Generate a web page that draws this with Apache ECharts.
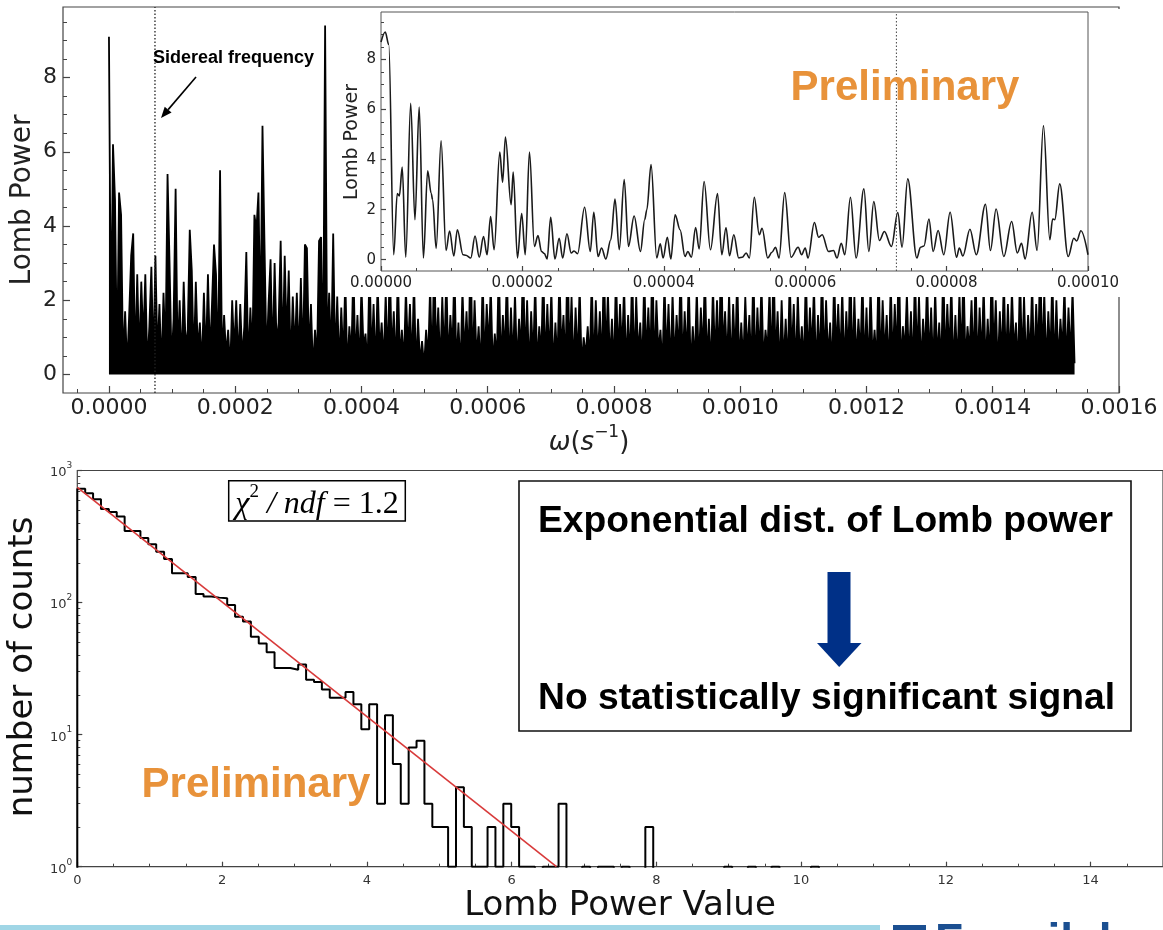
<!DOCTYPE html>
<html>
<head>
<meta charset="utf-8">
<script src="https://cdn.jsdelivr.net/npm/echarts@6/dist/echarts.min.js"></script>
<style>
  html, body { margin: 0; padding: 0; background: #fff; }
  #chart { width: 1163px; height: 930px; }
</style>
</head>
<body>
<div id="chart"></div>
<script>
// ---------- data ----------
// Lomb periodogram over the full frequency range (uniform grid, step in s^-1)
const MAIN_STEP = 3.2e-6;
const mainPower = [
  9.1,1.0,6.2,4.7,0.2,4.9,4.3,0.3,1.7,0.2,
  1.6,3.2,3.8,0.3,2.7,0.4,2.5,0.9,2.7,0.2,
  1.3,2.9,0.3,3.2,0.5,1.9,0.1,2.2,0.6,5.4,
  3.0,0.3,1.5,5.0,0.4,2.0,0.2,2.5,0.7,1.2,
  3.9,2.8,0.3,2.5,0.6,1.4,0.2,2.2,0.4,2.7,
  0.5,1.9,3.5,2.7,0.1,5.5,0.3,1.6,0.5,1.2,
  0.1,2.0,0.6,2.0,0.3,1.9,0.4,1.3,3.3,0.2,
  1.8,0.5,4.3,3.9,4.9,1.2,6.7,3.5,0.4,1.9,
  3.1,0.3,3.0,0.8,1.4,3.6,0.5,3.2,0.9,2.8,
  0.2,2.1,0.6,2.2,0.4,2.6,0.3,3.5,3.4,0.5,
  1.9,0.1,1.2,0.4,3.6,3.7,0.1,9.4,0.6,2.2,
  0.4,3.8,0.3,2.1,
  0.2,1.8,0.4,2.6,0.1,1.3,0.5,2.9,0.3,1.6,0.2,2.4,0.7,1.1,0.2,3.0,0.4,1.9,0.1,2.5,
  0.6,1.4,0.3,2.2,0.2,3.1,0.5,1.7,0.1,2.8,0.4,1.2,0.3,2.3,0.6,1.9,0.2,2.6,0.1,1.5,
  0.3,0.9,0.2,1.2,0.4,2.4,0.1,3.3,0.5,1.8,0.2,2.1,0.4,2.7,0.3,1.6,0.6,2.9,0.2,1.4,
  0.1,2.3,0.5,1.7,0.3,3.6,0.2,2.0,0.4,1.3,0.1,2.6,0.3,1.9,0.7,2.4,0.2,1.1,0.4,3.0,
  0.2,1.6,0.5,2.8,0.1,1.8,0.3,2.2,0.2,1.5,0.6,3.2,0.3,2.0,0.1,1.7,0.4,2.5,0.2,1.3,
  0.5,2.9,0.2,1.9,0.4,2.3,0.1,1.4,0.3,2.7,0.6,1.6,0.2,3.4,0.4,2.1,0.1,1.8,0.3,2.4,
  0.2,1.0,0.5,1.3,0.3,2.6,0.1,2.0,0.4,1.7,0.2,3.1,0.5,2.2,0.3,1.5,0.1,2.8,0.4,1.9,
  0.6,2.4,0.2,1.6,0.3,2.9,0.1,2.1,0.5,1.4,0.2,2.7,0.4,1.8,0.3,3.3,0.1,2.0,0.6,1.2,
  0.2,2.5,0.4,1.9,0.1,2.2,0.3,1.6,0.5,3.0,0.2,1.7,0.4,2.6,0.1,1.3,0.3,2.3,0.2,1.8,
  0.5,2.8,0.3,1.5,0.1,2.4,0.4,2.0,0.2,3.5,0.6,1.7,0.3,2.2,0.1,1.9,0.4,2.7,0.2,1.4,
  0.3,2.1,0.5,1.6,0.2,2.9,0.1,1.8,0.4,2.5,0.3,1.2,0.6,2.3,0.2,3.1,0.4,1.7,0.1,2.0,
  0.3,1.5,0.2,2.6,0.5,1.9,0.1,2.2,0.4,1.3,0.2,2.8,0.3,1.8,0.6,2.4,0.1,1.6,0.3,3.0,
  0.2,2.0,0.4,1.4,0.1,2.7,0.5,1.9,0.3,2.3,0.2,1.7,0.4,3.2,0.1,2.1,0.3,1.5,0.5,2.6,
  0.2,1.8,0.1,2.4,0.4,1.2,0.3,2.9,0.2,2.0,0.5,1.6,0.1,2.5,0.3,1.9,0.4,3.4,0.2,1.3,
  0.6,2.2,0.3,1.7,0.1,2.8,0.4,2.1,0.2,1.5,0.5,2.6,0.3,1.8,0.1,2.3,0.4,1.4,0.2,3.0,
  0.3,1.9,0.5,2.5,0.1,1.6,0.2,2.2,0.4,2.9,0.3,1.3,0.6,2.0,0.2,2.7,0.1,1.8,0.4,2.4,
  0.2,1.5,0.3,3.1,0.5,2.0,0.1,1.7,0.4,2.6,0.2,1.9,0.3,2.3,0.6,1.4,0.1,2.8,0.3,2.1,
  0.2,1.6,0.4,2.5,0.1,1.9,0.5,3.3,0.3,2.2,0.2,1.7,0.4,2.7,0.1,2.0,0.3,1.5,0.6,2.4,
  0.2,1.8,0.4,2.3,0.3
];

// Low-frequency zoom: frequencies in units of 1e-6 s^-1, and Lomb power
const insetFreq = [
  0,0.6,1.1,1.8,2.3,2.6,3.0,3.5,4.2,4.8,5.4,6.0,6.6,7.1,7.3,7.8,8.5,9.2,9.7,10.3,
  10.8,11.6,12.0,12.7,13.3,13.9,14.5,15.0,15.5,16.0,16.8,17.2,17.6,18.4,18.7,19.3,19.9,20.4,21.0,21.7,
  22.2,22.7,23.1,23.5,24.0,24.6,25.2,25.7,26.3,26.9,27.3,27.8,28.8,29.6,30.1,30.7,31.2,31.8,32.5,33.1,
  33.7,34.4,35.0,35.8,36.7,37.3,37.6,38.2,39.0,39.5,39.9,40.5,41.0,41.6,42.3,43.0,43.4,43.9,44.5,45.0,
  45.7,46.6,47.6,48.2,48.8,49.3,49.9,50.6,51.1,51.65,52.1,52.8,53.5,53.9,54.7,55.3,55.8,56.3,57.1,58.0,
  59.0,59.5,60.0,60.4,61.3,61.9,62.4,63.3,64.0,64.5,65.1,65.6,66.4,67.2,68.3,69.0,69.7,70.5,71.2,72.2,
  73.1,73.7,74.5,75.8,76.3,76.8,77.5,78.1,78.8,79.6,80.5,81.4,81.8,82.3,83.3,84.2,85.5,86.2,87.0,88.1,
  89.2,90.0,90.6,91.1,92.1,92.8,93.7,94.6,95.0,95.3,96.0,97.2,98.0,98.4,99.0,100.0
];
const insetPower = [
  8.7,9.1,8.6,0.2,2.65,2.55,3.7,0.1,6.25,1.6,6.1,0.07,3.55,2.65,2.4,0.45,4.75,0.37,1.15,0.15,
  1.2,0.2,0.18,0.07,0.95,0.1,0.93,0.2,1.73,0.4,4.3,3.1,4.9,2.2,3.5,0.07,1.85,0.2,4.3,0.53,
  0.97,0.33,0.25,0.03,1.7,0.03,0.86,0.07,1.04,0.27,0.35,0.24,2.1,0.33,1.9,0.13,0.47,0.03,0.8,2.43,
  0.4,3.2,0.53,1.75,0.33,1.6,2.0,3.8,0.07,0.64,0.07,0.9,0.03,1.8,1.2,0.13,0.33,0.1,1.29,0.43,
  3.12,0.4,2.65,0.2,1.29,0.16,1.0,0.07,0.1,0.27,0.07,2.5,1.0,1.26,0.07,0.3,0.5,0.07,2.68,0.1,
  0.5,0.2,0.47,0.07,1.49,0.9,1.0,0.33,0.37,0.07,0.66,0.2,2.5,0.07,2.83,0.33,2.33,0.77,1.13,0.53,
  1.89,0.5,3.23,0.07,0.5,0.55,1.63,0.33,1.17,0.2,1.9,0.1,0.47,0.15,1.22,0.2,2.22,0.37,2.03,0.13,
  1.53,0.27,0.66,0.03,1.9,0.37,5.36,0.8,1.63,1.6,3.03,0.13,0.86,0.75,1.16,0.2
];

// Sidereal angular frequency (s^-1)
const SIDEREAL = 7.29e-5;

// Histogram of Lomb power values: bin width and counts per bin
const BIN_W = 0.109;
const histCounts = [
  727,674,607,510,484,448,349,349,308,277,
  243,214,167,167,156,116,111,109,108,96,
  78,72,55,49,42,32,32,31,34,26,
  25,22,19,19,21,17,11,17,3,14,
  6,3,8,9,3,2,2,1,4,2,
  1,1,2,1,3,2,1,1,0,1,
  1,3,0,0,1,0,1,1,0,1,
  0,0,2,0,0,0,0,0,0,0,
  0,0,1,0,0,1,0,0,1,0,
  0,0,0,1
];
// Exponential fit, drawn between its end points
const fitLine = [[0, 745], [6.62, 1]];

// Tick labels
const mainXTicks = [0, 0.0002, 0.0004, 0.0006, 0.0008, 0.0010, 0.0012, 0.0014, 0.0016];
const mainYTicks = [0, 2, 4, 6, 8];
const insetXTicks = [0, 0.00002, 0.00004, 0.00006, 0.00008, 0.0001];
const insetYTicks = [0, 2, 4, 6, 8];
const histXTicks = [0, 2, 4, 6, 8, 10, 12, 14];
const histYTicks = [1, 10, 100, 1000];

// ---------- helpers ----------
function minorSteps(from, to, step, every) {
  const out = [];
  for (let k = Math.round(from / step); k * step <= to + step * 1e-6; k++) {
    if (k % every !== 0) out.push(+(k * step).toPrecision(10));
  }
  return out;
}
const FRAME = '#444';
const LABEL = '#222';
const FONT = 'DejaVu Sans';

function majorAxis(o) {
  return {
    gridIndex: o.grid, type: o.type || 'value', position: o.pos,
    min: o.min, max: o.max, logBase: 10, z: o.z || 0,
    axisLine: { show: false, onZero: false }, splitLine: { show: false },
    axisTick: { inside: true, length: o.len, customValues: o.ticks,
      lineStyle: { color: FRAME, width: 1.2 } },
    axisLabel: { customValues: o.ticks, formatter: o.fmt, margin: o.margin,
      fontSize: o.fontSize, fontFamily: FONT, color: o.color || LABEL, rich: o.rich }
  };
}
function minorAxis(o) {
  return {
    gridIndex: o.grid, type: o.type || 'value', position: o.pos,
    min: o.min, max: o.max, logBase: 10, z: o.z || 0,
    axisLine: { show: false, onZero: false }, splitLine: { show: false },
    axisTick: { inside: true, length: o.len, customValues: o.ticks,
      lineStyle: { color: FRAME, width: 1 } },
    axisLabel: { show: false }
  };
}

// ---------- ranges ----------
const MAIN_X = [-0.0000728, 0.0016], MAIN_Y = [-0.5, 9.9];
const INSET_X = [0, 0.0001], INSET_Y = [-0.45, 9.9];
const HIST_X = [0, 15], HIST_Y = [1, 1000];
const FLOOR = 0.5; // empty bins fall below the log-axis floor and are clipped

// ---------- series data ----------
const mainData = mainPower.map((p, i) => [i * MAIN_STEP, p]);
const insetData = insetFreq.map((f, i) => [f * 1e-6, insetPower[i]]);
const histData = [[0, FLOOR]];
histCounts.forEach((c, i) => histData.push([i * BIN_W, c > 0 ? c : FLOOR]));
histData.push([histCounts.length * BIN_W, FLOOR]);

const logMinor = [];
[1, 10, 100].forEach(d => { for (let m = 2; m <= 9; m++) logMinor.push(m * d); });

// arrow head for the sidereal annotation
const A0 = [196, 77], A1 = [161, 118];
const dl = Math.hypot(A1[0] - A0[0], A1[1] - A0[1]);
const ux = (A1[0] - A0[0]) / dl, uy = (A1[1] - A0[1]) / dl;
const hb = [A1[0] - 11 * ux, A1[1] - 11 * uy];
const head = [[A1[0], A1[1]], [hb[0] - 4.5 * uy, hb[1] + 4.5 * ux], [hb[0] + 4.5 * uy, hb[1] - 4.5 * ux]];

const ORANGE = '#E8923A';

const option = {
  animation: false,
  backgroundColor: '#fff',
  textStyle: { fontFamily: FONT },
  grid: [
    { left: 63, top: 7, width: 1056, height: 386, show: true, borderColor: FRAME, borderWidth: 1.2, backgroundColor: 'transparent', z: 0 },
    { left: 381, top: 12, width: 707, height: 259, show: true, borderColor: '#555', borderWidth: 1, backgroundColor: 'transparent', z: 8 },
    { left: 77.3, top: 470.5, width: 1086, height: 396.2, show: true, borderColor: FRAME, borderWidth: 1.2, backgroundColor: 'transparent', z: 0 }
  ],
  xAxis: [
    majorAxis({ grid: 0, pos: 'bottom', min: MAIN_X[0], max: MAIN_X[1], ticks: mainXTicks, len: 7,
      fmt: v => v.toFixed(4), fontSize: 22, margin: 4 }),
    minorAxis({ grid: 0, pos: 'bottom', min: MAIN_X[0], max: MAIN_X[1], len: 4,
      ticks: minorSteps(-0.00005, 0.0016, 0.00005, 4) }),
    majorAxis({ grid: 1, pos: 'bottom', min: INSET_X[0], max: INSET_X[1], ticks: insetXTicks, len: 5, z: 8,
      fmt: v => v.toFixed(5), fontSize: 15, margin: 5 }),
    minorAxis({ grid: 1, pos: 'bottom', min: INSET_X[0], max: INSET_X[1], len: 3, z: 8,
      ticks: minorSteps(0, 0.0001, 0.000005, 4) }),
    majorAxis({ grid: 2, pos: 'bottom', min: HIST_X[0], max: HIST_X[1], ticks: histXTicks, len: 5,
      fmt: v => String(v), fontSize: 13, margin: 7, color: '#333' }),
    minorAxis({ grid: 2, pos: 'bottom', min: HIST_X[0], max: HIST_X[1], len: 3,
      ticks: minorSteps(0, 15, 0.5, 4) })
  ],
  yAxis: [
    majorAxis({ grid: 0, pos: 'left', min: MAIN_Y[0], max: MAIN_Y[1], ticks: mainYTicks, len: 7,
      fmt: v => String(v), fontSize: 22, margin: 6 }),
    minorAxis({ grid: 0, pos: 'left', min: MAIN_Y[0], max: MAIN_Y[1], len: 4,
      ticks: minorSteps(0, 9.5, 0.5, 4) }),
    majorAxis({ grid: 1, pos: 'left', min: INSET_Y[0], max: INSET_Y[1], ticks: insetYTicks, len: 5, z: 8,
      fmt: v => String(v), fontSize: 15, margin: 5 }),
    minorAxis({ grid: 1, pos: 'left', min: INSET_Y[0], max: INSET_Y[1], len: 3, z: 8,
      ticks: minorSteps(0, 9.5, 0.5, 4) }),
    majorAxis({ grid: 2, pos: 'left', type: 'log', min: HIST_Y[0], max: HIST_Y[1], ticks: histYTicks, len: 5,
      fmt: v => '{b|10}{s|' + Math.round(Math.log10(v)) + '}', margin: 5, color: '#333',
      rich: { b: { fontSize: 13, color: '#333', fontFamily: FONT, lineHeight: 18, verticalAlign: 'bottom' },
              s: { fontSize: 9, color: '#333', fontFamily: FONT, lineHeight: 18, verticalAlign: 'top' } } }),
    minorAxis({ grid: 2, pos: 'left', type: 'log', min: HIST_Y[0], max: HIST_Y[1], len: 3, ticks: logMinor })
  ],
  series: [
    // dense periodogram: outline plus fill down to zero power
    { type: 'line', name: 'periodogram', xAxisIndex: 0, yAxisIndex: 0, data: mainData, z: 2,
      showSymbol: false, symbol: 'none', lineStyle: { color: '#000', width: 1.8, join: 'bevel' },
      areaStyle: { color: '#000', opacity: 1, origin: 'auto' }, clip: true },
    { type: 'line', name: 'sidereal', xAxisIndex: 0, yAxisIndex: 0, z: 3,
      data: [[SIDEREAL, MAIN_Y[0]], [SIDEREAL, MAIN_Y[1]]], symbol: 'none',
      lineStyle: { color: '#222', width: 1.3, type: [1.5, 2] } },
    { type: 'line', name: 'zoom', xAxisIndex: 2, yAxisIndex: 2, data: insetData, z: 9,
      smooth: 0.35, smoothMonotone: 'x', symbol: 'none', lineStyle: { color: '#1a1a1a', width: 1.6 } },
    { type: 'line', name: 'sidereal zoom', xAxisIndex: 2, yAxisIndex: 2, z: 9,
      data: [[SIDEREAL, INSET_Y[0]], [SIDEREAL, INSET_Y[1]]], symbol: 'none',
      lineStyle: { color: '#444', width: 1, type: [1.5, 2] } },
    { type: 'line', name: 'histogram', xAxisIndex: 4, yAxisIndex: 4, data: histData, step: 'end',
      symbol: 'none', clip: true, z: 3, lineStyle: { color: '#000', width: 2 } },
    { type: 'line', name: 'fit', xAxisIndex: 4, yAxisIndex: 4, data: fitLine, symbol: 'none',
      clip: true, z: 4, lineStyle: { color: '#d83a3a', width: 1.6 } }
  ],
  graphic: { elements: [
    // white backing of the zoomed panel
    { type: 'rect', z: 5, silent: true, shape: { x: 341, y: 9, width: 786, height: 288 }, style: { fill: '#fff' } },
    // axis titles
    { type: 'text', z: 20, x: 23, y: 200, rotation: Math.PI / 2,
      style: { text: 'Lomb Power', fontSize: 28, fontFamily: FONT, fill: LABEL,
        align: 'center', verticalAlign: 'middle', textAlign: 'center', textVerticalAlign: 'middle' } },
    { type: 'text', z: 20, x: 352, y: 142, rotation: Math.PI / 2,
      style: { text: 'Lomb Power', fontSize: 19, fontFamily: FONT, fill: LABEL,
        align: 'center', verticalAlign: 'middle', textAlign: 'center', textVerticalAlign: 'middle' } },
    { type: 'text', z: 20, x: 589, y: 440,
      style: { text: '{w|ω}{p|(}{w|s}{u|−1}{p|)}', align: 'center', verticalAlign: 'middle',
        textAlign: 'center', textVerticalAlign: 'middle',
        rich: {
          w: { fontSize: 26, fontFamily: FONT, fontStyle: 'italic', fill: LABEL, lineHeight: 32, verticalAlign: 'bottom' },
          p: { fontSize: 26, fontFamily: FONT, fill: LABEL, lineHeight: 32, verticalAlign: 'bottom' },
          u: { fontSize: 17, fontFamily: FONT, fill: LABEL, lineHeight: 32, verticalAlign: 'top' }
        } } },
    { type: 'text', z: 20, x: 23, y: 667, rotation: Math.PI / 2,
      style: { text: 'number of counts', fontSize: 34, fontFamily: FONT, fill: '#111',
        align: 'center', verticalAlign: 'middle', textAlign: 'center', textVerticalAlign: 'middle' } },
    { type: 'text', z: 20, x: 620, y: 906,
      style: { text: 'Lomb Power Value', fontSize: 34, fontFamily: FONT, fill: '#111',
        align: 'center', verticalAlign: 'middle', textAlign: 'center', textVerticalAlign: 'middle' } },
    // sidereal annotation
    { type: 'text', z: 20, x: 153, y: 58,
      style: { text: 'Sidereal frequency', fontSize: 18, fontWeight: 'bold', fontFamily: 'Liberation Sans', fill: '#000',
        align: 'left', verticalAlign: 'middle', textAlign: 'left', textVerticalAlign: 'middle' } },
    { type: 'line', z: 20, shape: { x1: A0[0], y1: A0[1], x2: hb[0], y2: hb[1] }, style: { stroke: '#000', lineWidth: 1.6 } },
    { type: 'polygon', z: 20, shape: { points: head }, style: { fill: '#000' } },
    // watermarks
    { type: 'text', z: 20, x: 905, y: 88,
      style: { text: 'Preliminary', fontSize: 42, fontWeight: 'bold', fontFamily: 'Liberation Sans', fill: ORANGE,
        align: 'center', verticalAlign: 'middle', textAlign: 'center', textVerticalAlign: 'middle' } },
    { type: 'text', z: 20, x: 256, y: 785,
      style: { text: 'Preliminary', fontSize: 42, fontWeight: 'bold', fontFamily: 'Liberation Sans', fill: ORANGE,
        align: 'center', verticalAlign: 'middle', textAlign: 'center', textVerticalAlign: 'middle' } },
    // fit quality box
    { type: 'rect', z: 20, shape: { x: 228.7, y: 480.7, width: 176.6, height: 40.3 },
      style: { fill: '#fff', stroke: '#000', lineWidth: 1.5 } },
    { type: 'text', z: 21, x: 317, y: 502,
      style: { text: '{c|χ}{s|2}{t| / ndf}{n| = 1.2}', align: 'center', verticalAlign: 'middle',
        textAlign: 'center', textVerticalAlign: 'middle',
        rich: {
          c: { fontSize: 32, fontFamily: 'Liberation Serif', fontStyle: 'italic', fill: '#000', lineHeight: 38, verticalAlign: 'bottom' },
          s: { fontSize: 19, fontFamily: 'Liberation Serif', fill: '#000', lineHeight: 38, verticalAlign: 'top' },
          t: { fontSize: 32, fontFamily: 'Liberation Serif', fontStyle: 'italic', fill: '#000', lineHeight: 38, verticalAlign: 'bottom' },
          n: { fontSize: 32, fontFamily: 'Liberation Serif', fill: '#000', lineHeight: 38, verticalAlign: 'bottom' }
        } } },
    // conclusion box
    { type: 'rect', z: 20, shape: { x: 519, y: 481, width: 612, height: 250 },
      style: { fill: '#fff', stroke: '#111', lineWidth: 1.6 } },
    { type: 'text', z: 21, x: 538, y: 522, scaleX: 1.034,
      style: { text: 'Exponential dist. of Lomb power', fontSize: 36, fontWeight: 'bold', fontFamily: 'Liberation Sans', fill: '#000',
        align: 'left', verticalAlign: 'middle', textAlign: 'left', textVerticalAlign: 'middle' } },
    { type: 'text', z: 21, x: 538, y: 699, scaleX: 1.034,
      style: { text: 'No statistically significant signal', fontSize: 36, fontWeight: 'bold', fontFamily: 'Liberation Sans', fill: '#000',
        align: 'left', verticalAlign: 'middle', textAlign: 'left', textVerticalAlign: 'middle' } },
    { type: 'rect', z: 21, shape: { x: 827.5, y: 572, width: 23, height: 72 }, style: { fill: '#003087' } },
    { type: 'polygon', z: 21, shape: { points: [[817, 643], [861.5, 643], [839.2, 667]] }, style: { fill: '#003087' } },
    // footer
    { type: 'rect', z: 20, shape: { x: 0, y: 925, width: 880, height: 5 }, style: { fill: '#a0d6e6' } },
    { type: 'rect', z: 20, shape: { x: 893, y: 925, width: 33, height: 5 }, style: { fill: '#1b4f91' } },
    { type: 'text', z: 20, x: 935, y: 920,
      style: { text: 'Fermilab', fontSize: 46, fontWeight: 'bold', fontFamily: 'Liberation Sans', fill: '#1b4f91',
        align: 'left', verticalAlign: 'top', textAlign: 'left', textVerticalAlign: 'top' } }
  ] }
};

const chart = echarts.init(document.getElementById('chart'), null, { renderer: 'canvas', width: 1163, height: 930 });
chart.setOption(option);
</script>
</body>
</html>
